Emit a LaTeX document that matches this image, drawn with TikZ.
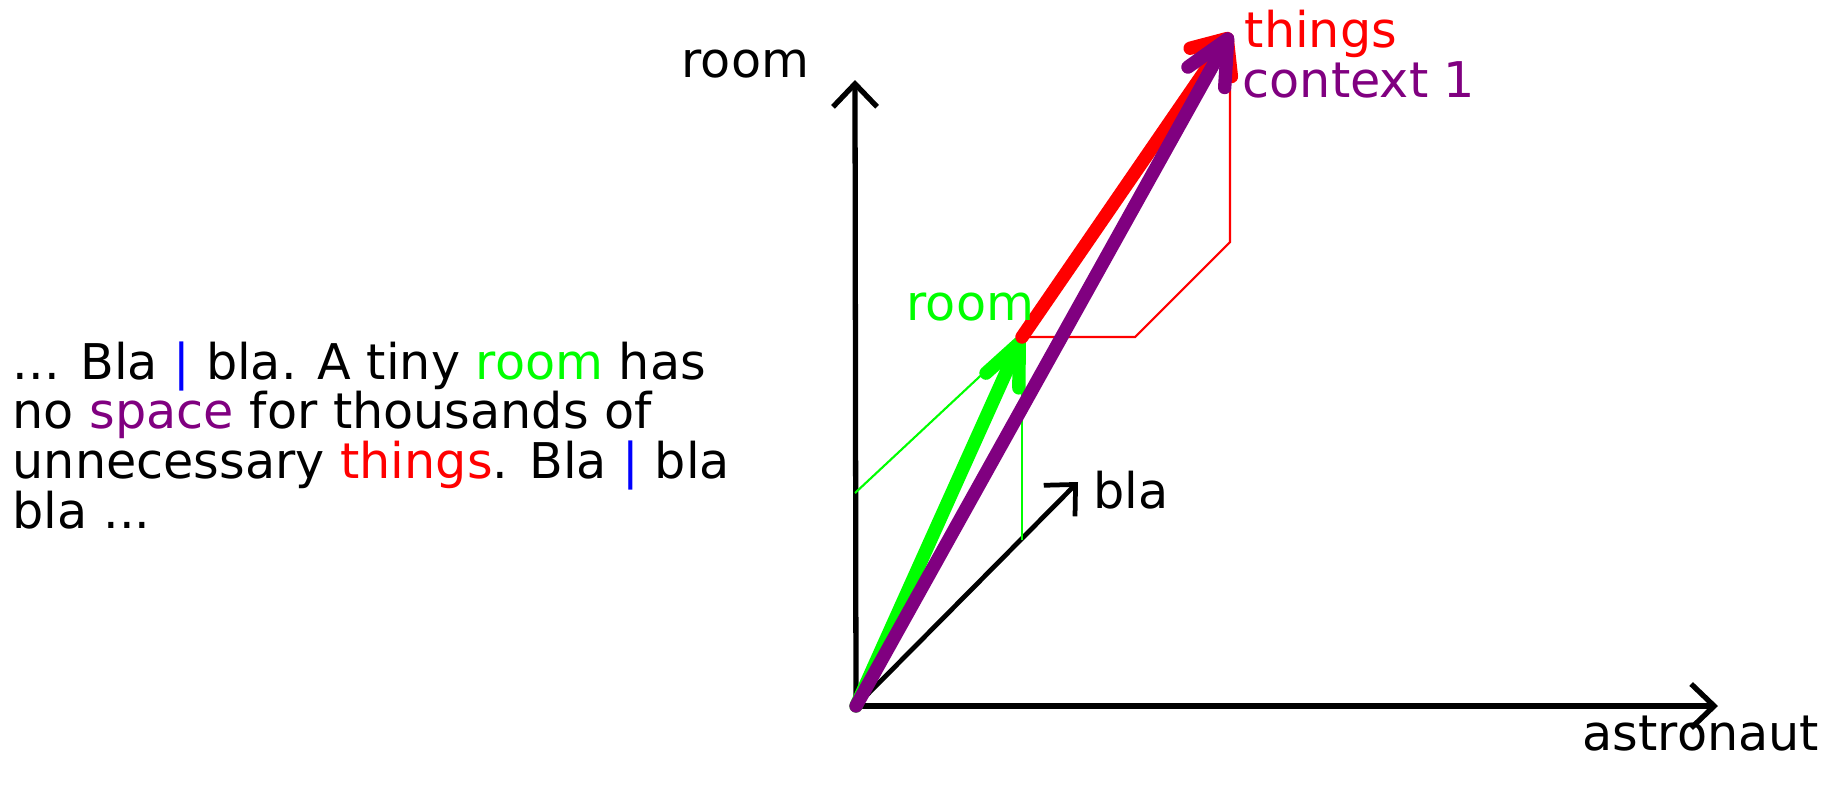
\documentclass[tikz,border=0pt]{standalone}
\usepackage{fontspec}
\setmainfont{DejaVu Sans}
\usetikzlibrary{arrows.meta}
\definecolor{vecgreen}{HTML}{00FF00}
\definecolor{vecred}{HTML}{FF0000}
\definecolor{vecpurple}{HTML}{800080}
\definecolor{barblue}{HTML}{0000FF}

\begin{document}
\begin{tikzpicture}[x=0.01cm, y=-0.01cm,
    font=\fontsize{14}{14.1}\selectfont,
    axis/.style={draw=black, line width=1.5pt, -{Straight Barb[length=2.3mm, width=4.4mm]}},
    vec/.style={line width=3.8pt, line cap=round},
    proj/.style={line width=0.6pt},
    lbl/.style={anchor=base west, inner sep=0pt}]
  \useasboundingbox (0,0) rectangle (1844,784);

  % axes
  \coordinate (O) at (856,706);
  \coordinate (roomtip) at (855,80);
  \coordinate (astrotip) at (1718,706);
  \coordinate (blatip) at (1078,482);
  \draw[axis] (O) -- (roomtip);
  \draw[axis] (O) -- (astrotip);
  \draw[axis, line width=1.35pt] (O) -- (blatip);
  \node[lbl] (roomlbl) at (681,77) {room};
  \node[lbl] (astrolbl) at (1582,750) {astronaut};
  \node[lbl] (blalbl) at (1093,508) {bla};

  % word vectors
  \coordinate (g) at (1022,337);
  \coordinate (t) at (1231,33);
  \coordinate (groom) at (855,493);
  \coordinate (gbla) at (1022,540);
  \coordinate (tastro) at (1135,337);
  \coordinate (tbla) at (1230,242);
  \draw[proj, vecgreen] (groom) -- (g);
  \draw[proj, vecgreen] (gbla) -- (1022,392);
  \draw[vec, vecgreen, -{Straight Barb[length=4.1mm, width=3.6mm, round]}] (O) -- (g);
  \draw[proj, vecred] (g) -- (tastro) -- (tbla) -- (1230,88);
  \draw[vec, vecred, -{Straight Barb[length=2.9mm, width=5mm, round]}] (g) -- (t);
  \draw[vec, vecpurple, -{Straight Barb[length=4.4mm, width=4.2mm, round]}] (O) -- (t);
  \node[lbl, text=vecgreen] (glbl) at (906,320) {room};
  \node[lbl, text=vecred] (tlbl) at (1244,47) {things};
  \node[lbl, text=vecpurple] (clbl) at (1242,97) {context 1};

  % sentence
  \node[lbl, align=left] (para) at (12,528) {... Bla {\color{barblue}|} bla. A tiny {\color{vecgreen}room} has\\
    no {\color{vecpurple}space} for thousands of\\
    unnecessary {\color{vecred}things}. Bla {\color{barblue}|} bla\\
    bla ...};
\end{tikzpicture}
\end{document}
